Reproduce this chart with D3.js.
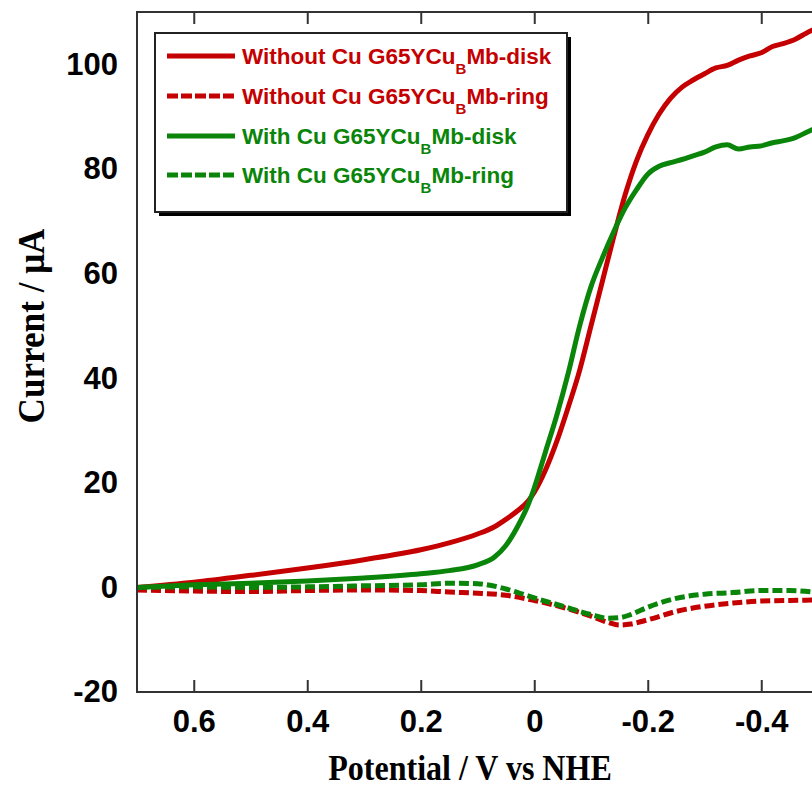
<!DOCTYPE html>
<html>
<head>
<meta charset="utf-8">
<script src="https://cdn.jsdelivr.net/npm/d3@7"></script>
<style>
	body { margin: 0; background: #fff; }
	svg { display: block; }
</style>
</head>
<body>
<svg id="chart" width="812" height="787"></svg>
<script>
// potentials (V vs NHE) for the disk curves
var diskPotential = [0.7, 0.6, 0.5, 0.4, 0.3, 0.2, 0.15, 0.1, 0.07, 0.05, 0.03, 0.01, 0, -0.02, -0.04, -0.06, -0.08, -0.1,
	-0.12, -0.14, -0.16, -0.18, -0.2, -0.22, -0.24, -0.26, -0.28, -0.3, -0.32, -0.34, -0.36, -0.38, -0.4, -0.42, -0.44, -0.46, -0.48, -0.5];
var withoutCuDisk = [0, 1, 2.3, 3.7, 5.3, 7.2, 8.5, 10.2, 11.6, 13, 14.6, 16.6, 18.2, 22.5, 28, 34.5, 41.5, 50,
	58.5, 67, 75, 81.5, 86.5, 90.5, 93.5, 95.6, 97, 98.2, 99.3, 99.8, 100.8, 101.6, 102.2, 103.4, 104, 104.8, 106, 107];
var withCuDisk = [0, 0.5, 0.8, 1.2, 1.8, 2.6, 3.2, 4.3, 5.8, 8, 11.5, 16, 19, 26, 33, 41, 50, 57.5,
	63, 68, 72.5, 76, 79, 80.5, 81.2, 81.8, 82.5, 83.2, 84.2, 84.6, 83.8, 84.2, 84.4, 85, 85.4, 86, 87, 88];

// potentials for the ring curves
var ringPotential = [0.7, 0.6, 0.5, 0.4, 0.3, 0.2, 0.15, 0.1, 0.05, 0, -0.05, -0.1, -0.13, -0.15, -0.17, -0.2, -0.25, -0.3, -0.35, -0.4, -0.45, -0.5];
var withoutCuRing = [-0.5, -0.7, -0.8, -0.6, -0.5, -0.6, -0.9, -1.1, -1.5, -2.5, -3.8, -5.5, -6.7, -7.2, -7, -6.2, -4.6, -3.6, -3, -2.6, -2.5, -2.4];
var withCuRing = [0, 0.1, 0, 0.1, 0.3, 0.5, 0.8, 0.7, -0.3, -2, -3.6, -5.2, -5.9, -5.8, -5.2, -3.8, -2.1, -1.3, -1, -0.6, -0.6, -1];

var xTicks = [0.6, 0.4, 0.2, 0, -0.2, -0.4];
var xTickLabels = ["0.6", "0.4", "0.2", "0", "-0.2", "-0.4"];
var yTicks = [-20, 0, 20, 40, 60, 80, 100];
var yTickLabels = ["-20", "0", "20", "40", "60", "80", "100"];

var legendNames = ["Without Cu G65YCu", "Without Cu G65YCu", "With Cu G65YCu", "With Cu G65YCu"];
var legendSuffix = ["Mb-disk", "Mb-ring", "Mb-disk", "Mb-ring"];

var red = "#C40000";
var green = "#0A850A";

var svg = d3.select("#chart");
var margin = { left: 137, top: 12 };
var plotW = 681, plotH = 680;

var x = d3.scaleLinear().domain([0.7, -0.5]).range([margin.left, margin.left + plotW]);
var y = d3.scaleLinear().domain([-20, 110]).range([margin.top + plotH, margin.top]);

var series = [
	{ v: diskPotential, i: withoutCuDisk, color: red, dash: null },
	{ v: ringPotential, i: withoutCuRing, color: red, dash: "10,4" },
	{ v: diskPotential, i: withCuDisk, color: green, dash: null },
	{ v: ringPotential, i: withCuRing, color: green, dash: "10,4" }
];

svg.append("defs").append("clipPath").attr("id", "plotclip")
	.append("rect")
	.attr("x", margin.left).attr("y", margin.top)
	.attr("width", plotW).attr("height", plotH);

var line = d3.line()
	.x(d => x(d[0]))
	.y(d => y(d[1]))
	.curve(d3.curveMonotoneX);

// curves (ring curves underneath)
var drawOrder = [1, 3, 0, 2];
svg.append("g").attr("clip-path", "url(#plotclip)")
	.selectAll("path")
	.data(drawOrder.map(k => series[k]))
	.enter()
	.append("path")
	.attr("d", s => line(s.v.map((v, j) => [v, s.i[j]])))
	.style("fill", "none")
	.style("stroke", s => s.color)
	.style("stroke-width", 5)
	.style("stroke-dasharray", s => s.dash);

// frame
svg.append("rect")
	.attr("x", margin.left).attr("y", margin.top)
	.attr("width", plotW).attr("height", plotH)
	.style("fill", "none")
	.style("stroke", "#333")
	.style("stroke-width", 2);

// x axis, ticks inside, top and bottom
var xAxis = d3.axisBottom(x)
	.tickValues(xTicks)
	.tickFormat((d, k) => xTickLabels[k])
	.tickSize(-12)
	.tickPadding(18);

svg.append("g")
	.attr("transform", "translate(0," + (margin.top + plotH) + ")")
	.call(xAxis);

svg.append("g")
	.attr("transform", "translate(0," + margin.top + ")")
	.call(d3.axisTop(x).tickValues(xTicks).tickSize(-12).tickFormat(""));

var yAxis = d3.axisLeft(y)
	.tickValues(yTicks)
	.tickFormat((d, k) => yTickLabels[k])
	.tickSize(0)
	.tickPadding(19);

svg.append("g")
	.attr("transform", "translate(" + margin.left + ",0)")
	.call(yAxis);

svg.selectAll(".domain").remove();
svg.selectAll(".tick line").style("stroke", "#333").style("stroke-width", 2);
svg.selectAll(".tick text")
	.style("font-family", "'Liberation Sans', Arial, sans-serif")
	.style("font-weight", "bold")
	.style("font-size", "31px")
	.style("fill", "#000");

// axis titles (condensed Times look)
svg.append("text")
	.attr("transform", "translate(470,780) scale(0.89,1)")
	.attr("text-anchor", "middle")
	.style("font-family", "'Liberation Serif', 'Times New Roman', serif")
	.style("font-weight", "bold")
	.style("font-size", "36px")
	.text("Potential / V vs NHE");

svg.append("text")
	.attr("transform", "translate(44,326) rotate(-90) scale(0.95,1)")
	.attr("text-anchor", "middle")
	.style("font-family", "'Liberation Serif', 'Times New Roman', serif")
	.style("font-weight", "bold")
	.style("font-size", "37px")
	.text("Current / \u03BCA");

// legend
var lg = svg.append("g");
lg.append("rect")
	.attr("x", 159).attr("y", 37)
	.attr("width", 412).attr("height", 179)
	.style("fill", "#000");
lg.append("rect")
	.attr("x", 155).attr("y", 33)
	.attr("width", 412).attr("height", 179)
	.style("fill", "#fff")
	.style("stroke", "#222")
	.style("stroke-width", 2);

var rowY = [56, 96, 136, 175];
var item = lg.selectAll("g.item")
	.data(series)
	.enter()
	.append("g")
	.attr("transform", (s, k) => "translate(0," + rowY[k] + ")");

item.append("line")
	.attr("x1", 167).attr("x2", 235)
	.style("stroke", s => s.color)
	.style("stroke-width", 5)
	.style("stroke-dasharray", s => s.dash ? "11,3" : null);

var txt = item.append("text")
	.attr("x", 242).attr("y", 8)
	.style("font-family", "'Liberation Sans', Arial, sans-serif")
	.style("font-weight", "bold")
	.style("font-size", "22.5px")
	.style("fill", s => s.color);
txt.append("tspan").text((s, k) => legendNames[k]);
txt.append("tspan").attr("dy", 10).style("font-size", "15px").text("B");
txt.append("tspan").attr("dy", -10).text((s, k) => legendSuffix[k]);
</script>
</body>
</html>
